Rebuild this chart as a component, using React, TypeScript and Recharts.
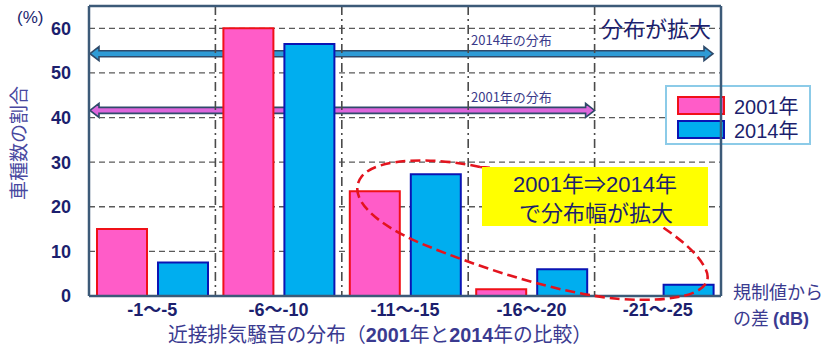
import React from "react";
import {
  BarChart,
  Bar,
  XAxis,
  YAxis,
  CartesianGrid,
  Legend,
} from "recharts";

// share of vehicle models (%) by margin to the regulation limit (dB)
const categories = ["-1～-5", "-6～-10", "-11～-15", "-16～-20", "-21～-25"];
const share2001 = [15, 60, 23.5, 1.5, 0];
const share2014 = [7.5, 56.5, 27.3, 6, 2.5];
const yTicks = [0, 10, 20, 30, 40, 50, 60];

const data = categories.map((range, i) => ({
  range,
  y2001: share2001[i],
  y2014: share2014[i],
}));

const series = [
  { key: "y2001", name: "2001年", fill: "#FF5CC8", stroke: "#F01018" },
  { key: "y2014", name: "2014年", fill: "#00AEEF", stroke: "#0A14B4" },
];

const W = 827;
const H = 347;
const PLOT = { left: 89, right: 721, top: 6, bottom: 296 };
const Y_MAX = 65;
const FONT = "'Liberation Sans', Arial, 'Noto Sans CJK JP', sans-serif";
const JP = "'Noto Sans CJK JP', 'Liberation Sans', sans-serif";
const NAVY = "#1C1F6E";
const AXIS = "#3C5A78";

const yOf = (v: number) =>
  PLOT.bottom - (v / Y_MAX) * (PLOT.bottom - PLOT.top);
const xOf = (i: number) =>
  PLOT.left + (i / categories.length) * (PLOT.right - PLOT.left);

function Arrow({ x0, x1, y, fill }: { x0: number; x1: number; y: number; fill: string }) {
  const t = 3;
  const hh = 7;
  const hw = 9;
  const pts = [
    [x0, y],
    [x0 + hw, y - hh],
    [x0 + hw, y - t],
    [x1 - hw, y - t],
    [x1 - hw, y - hh],
    [x1, y],
    [x1 - hw, y + hh],
    [x1 - hw, y + t],
    [x0 + hw, y + t],
    [x0 + hw, y + hh],
  ]
    .map((p) => p.join(","))
    .join(" ");
  return <polygon points={pts} fill={fill} stroke="#2F4A6A" strokeWidth={1.6} />;
}

function LegendBox() {
  return (
    <div
      style={{
        border: "2px solid #8CCBE8",
        background: "#fff",
        padding: "6px 10px",
        boxSizing: "border-box",
        width: 146,
        height: 60,
      }}
    >
      {series.map((s) => (
        <div
          key={s.key}
          style={{ display: "flex", alignItems: "center", height: 24 }}
        >
          <span
            style={{
              display: "inline-block",
              width: 44,
              height: 15,
              background: s.fill,
              border: `2px solid ${s.stroke}`,
              marginRight: 9,
            }}
          />
          <span style={{ fontFamily: FONT, fontSize: 20, color: NAVY }}>
            {s.name}
          </span>
        </div>
      ))}
    </div>
  );
}

export default function App() {
  const layer: React.CSSProperties = {
    position: "absolute",
    left: 0,
    top: 0,
    width: W,
    height: H,
  };
  return (
    <div
      style={{
        position: "absolute",
        left: 0,
        top: 0,
        width: W,
        height: H,
        background: "#fff",
      }}
    >
      {/* arrows sit behind the bars */}
      <svg style={layer} width={W} height={H}>
        <Arrow x0={PLOT.left + 1} x1={713} y={yOf(54.3)} fill="#2E9BD6" />
        <Arrow x0={PLOT.left + 1} x1={xOf(4)} y={yOf(41.6)} fill="#DD66DD" />
        <text x={471} y={45} fontFamily={JP} fontSize={13} fill="#3A3A8A">
          2014年の分布
        </text>
        <text x={471} y={102} fontFamily={JP} fontSize={13} fill="#3A3A8A">
          2001年の分布
        </text>
      </svg>

      <div style={layer}>
        <BarChart
          width={W}
          height={H}
          data={data}
          margin={{ top: PLOT.top, right: W - PLOT.right, bottom: 0, left: 0 }}
          barCategoryGap={8}
          barGap={11}
        >
          <CartesianGrid
            vertical={false}
            stroke="#5A5A5A"
            strokeDasharray="6 4"
            strokeWidth={1.3}
          />
          <CartesianGrid
            horizontal={false}
            stroke="#4A4A4A"
            strokeDasharray="9 4 2 4"
            strokeWidth={1.6}
            verticalCoordinatesGenerator={({ offset }: any) =>
              [1, 2, 3, 4].map(
                (i) => offset.left + (i * offset.width) / categories.length
              )
            }
          />
          <XAxis
            dataKey="range"
            height={H - PLOT.bottom}
            interval={0}
            tickLine={false}
            tickMargin={1}
            axisLine={{ stroke: AXIS, strokeWidth: 2.5 }}
            tick={{ fontSize: 18, fill: NAVY, fontFamily: FONT, fontWeight: "bold" }}
          />
          <YAxis
            width={PLOT.left}
            domain={[0, Y_MAX]}
            ticks={yTicks}
            interval={0}
            tickLine={false}
            tickMargin={12}
            axisLine={{ stroke: AXIS, strokeWidth: 2.5 }}
            tick={{ fontSize: 18, fill: NAVY, fontFamily: FONT, fontWeight: "bold" }}
          />
          <Legend
            layout="horizontal"
            align="center"
            verticalAlign="middle"
            wrapperStyle={{ left: 665, top: 85, width: 146, height: 60 }}
            content={() => <LegendBox />}
          />
          {series.map((s) => (
            <Bar
              key={s.key}
              dataKey={s.key}
              name={s.name}
              fill={s.fill}
              stroke={s.stroke}
              strokeWidth={2}
              isAnimationActive={false}
            />
          ))}
        </BarChart>
      </div>

      {/* annotations drawn on top */}
      <svg style={{ ...layer, pointerEvents: "none" }} width={W} height={H}>
        <line x1={PLOT.left} y1={PLOT.top} x2={PLOT.right} y2={PLOT.top} stroke={AXIS} strokeWidth={2.5} />
        <line x1={PLOT.right} y1={PLOT.top} x2={PLOT.right} y2={PLOT.bottom} stroke={AXIS} strokeWidth={2.5} />
        <path
          d="M 480 167 C 440 158, 380 156, 362 176 C 346 196, 372 222, 420 243 C 480 268, 560 294, 620 299 C 680 303, 716 292, 706 270 C 698 252, 676 236, 655 222 C 620 200, 540 170, 480 167 Z"
          fill="none"
          stroke="#E3141E"
          strokeWidth={2.6}
          strokeDasharray="10 5"
        />
        <rect x={482} y={167} width={226} height={59} fill="#FFFF00" />
        <text x={595} y={192} textAnchor="middle" fontFamily={FONT} fontSize={22} fill={NAVY}>
          2001年⇒2014年
        </text>
        <text x={596} y={221} textAnchor="middle" fontFamily={JP} fontSize={22} fill={NAVY}>
          で分布幅が拡大
        </text>
        <text x={711} y={37} textAnchor="end" fontFamily={JP} fontSize={22} fill={NAVY}>
          分布が拡大
        </text>
        <text x={17} y={23} fontFamily={FONT} fontSize={17} fill={NAVY}>
          (%)
        </text>
        <text
          transform="translate(26 143) rotate(-90)"
          textAnchor="middle"
          fontFamily={JP}
          fontSize={19}
          fill="#4848A0"
        >
          車種数の割合
        </text>
        <text x={168} y={342} fontFamily={JP} fontSize={20} fill="#3A3A90" textLength={424} lengthAdjust="spacingAndGlyphs">
          近接排気騒音の分布（<tspan fontFamily={FONT} fontWeight="bold">2001</tspan>年と<tspan fontFamily={FONT} fontWeight="bold">2014</tspan>年の比較）
        </text>
        <text x={733} y={299} fontFamily={JP} fontSize={18} fill="#3A3A90">
          規制値から
        </text>
        <text x={733} y={325} fontFamily={JP} fontSize={18} fill="#3A3A90">
          の差 <tspan fontFamily={FONT} fontWeight="bold">(dB)</tspan>
        </text>
      </svg>
    </div>
  );
}
